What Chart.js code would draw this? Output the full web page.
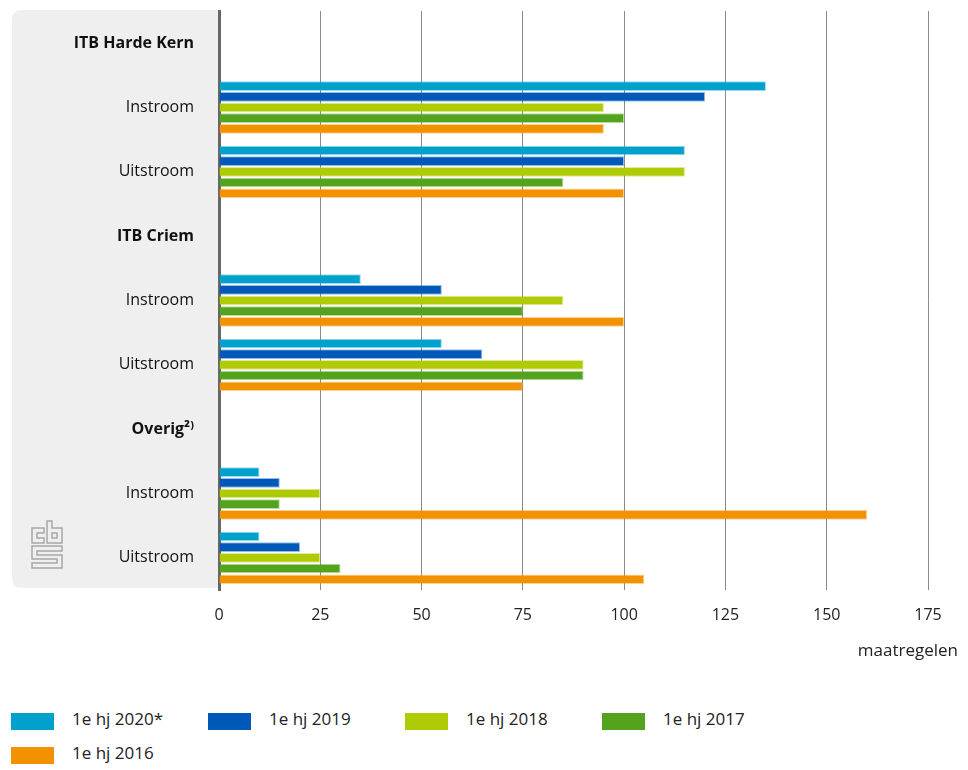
<!DOCTYPE html>
<html>
<head>
<meta charset="utf-8">
<script src="https://cdn.jsdelivr.net/npm/chart.js@4/dist/chart.umd.min.js"></script>
<style>
  body { margin: 0; background: #fff; font-family: 'Open Sans', sans-serif; }
  #wrap { position: relative; width: 968px; height: 690px; }
  #legend { position: absolute; left: 0; top: 704px; width: 968px; }
  .item { position: absolute; height: 20px; font-size: 17px; color: #222; white-space: nowrap; }
  .item span.box { position: absolute; left: 0; top: 9px; width: 43px; height: 17px; }
  .item span.txt { position: absolute; left: 61px; top: 3px; line-height: 24px; }
</style>
</head>
<body>
<div id="wrap"><canvas id="chart" width="968" height="690"></canvas></div>
<div id="legend"></div>
<script>
// categories (header rows have no bars)
const categories = ['ITB Harde Kern', 'Instroom', 'Uitstroom', 'ITB Criem', 'Instroom', 'Uitstroom', 'Overig\u00B2\u207E', 'Instroom', 'Uitstroom'];
const headerRows = [0, 3, 6];

const seriesNames = ['1e hj 2020*', '1e hj 2019', '1e hj 2018', '1e hj 2017', '1e hj 2016'];
const seriesColors = ['#00a1cd', '#0058b8', '#afcb05', '#53a31d', '#f39200'];

const v2020 = [null, 135, 115, null, 35, 55, null, 10, 10];
const v2019 = [null, 120, 100, null, 55, 65, null, 15, 20];
const v2018 = [null, 95, 115, null, 85, 90, null, 25, 25];
const v2017 = [null, 100, 85, null, 75, 90, null, 15, 30];
const v2016 = [null, 95, 100, null, 100, 75, null, 160, 105];

const xTicks = [0, 25, 50, 75, 100, 125, 150, 175];

const seriesValues = [v2020, v2019, v2018, v2017, v2016];

const FONT = "'Open Sans', sans-serif";

// gray panel behind labels + cbs logo + unit label
const decoPlugin = {
  id: 'deco',
  beforeDraw: function(chart) {
    const ctx = chart.ctx;
    const a = chart.chartArea;
    const l = 12, t = a.top - 1, r = a.left, b = a.bottom - 2, rad = 10;
    ctx.save();
    ctx.fillStyle = '#efefef';
    ctx.beginPath();
    ctx.moveTo(r, t);
    ctx.lineTo(l + rad, t);
    ctx.quadraticCurveTo(l, t, l, t + rad);
    ctx.lineTo(l, b - rad);
    ctx.quadraticCurveTo(l, b, l + rad, b);
    ctx.lineTo(r, b);
    ctx.closePath();
    ctx.fill();

    // cbs logo (rough)
    ctx.strokeStyle = '#a8a8a8';
    ctx.lineWidth = 1.5;
    const poly = function(pts) {
      ctx.beginPath();
      ctx.moveTo(pts[0][0], pts[0][1]);
      for (let i = 1; i < pts.length; i++) ctx.lineTo(pts[i][0], pts[i][1]);
      ctx.closePath();
      ctx.stroke();
    };
    poly([[32, 528], [44, 528], [44, 533], [37, 533], [37, 538], [44, 538], [44, 543], [32, 543]]);
    poly([[47, 521], [52, 521], [52, 528], [62, 528], [62, 543], [47, 543]]);
    poly([[52, 533], [57, 533], [57, 538], [52, 538]]);
    poly([[32, 546], [62, 546], [62, 551], [37, 551], [37, 555], [62, 555], [62, 568], [32, 568], [32, 563], [57, 563], [57, 559], [32, 559]]);
    ctx.restore();
  },
  afterDraw: function(chart) {
    const ctx = chart.ctx;
    ctx.save();
    ctx.fillStyle = '#222';
    ctx.font = '17px ' + FONT;
    ctx.textAlign = 'right';
    ctx.textBaseline = 'middle';
    ctx.fillText('maatregelen', 958, chart.chartArea.bottom + 61);
    ctx.restore();
  }
};

const datasets = seriesNames.map(function(name, i) {
  return {
    label: name,
    data: seriesValues[i],
    backgroundColor: seriesColors[i],
    borderColor: seriesColors[i] + '66',
    borderWidth: 1,
    borderSkipped: 'start',
    barPercentage: 0.9,
    categoryPercentage: 0.83,
  };
});

new Chart(document.getElementById('chart').getContext('2d'), {
  type: 'bar',
  data: { labels: categories, datasets: datasets },
  plugins: [decoPlugin],
  options: {
    indexAxis: 'y',
    responsive: false,
    animation: false,
    layout: { padding: { top: 11, right: 40, left: 0, bottom: 0 } },
    plugins: {
      legend: { display: false },
      tooltip: { enabled: false },
    },
    scales: {
      x: {
        min: 0,
        max: 175,
        afterBuildTicks: function(scale) {
          scale.ticks = xTicks.map(function(v) { return { value: v }; });
        },
        afterFit: function(scale) {
          scale.height = 100;
          scale.paddingLeft = 0;
          scale.paddingRight = 0;
        },
        grid: { color: '#8a8a8a', lineWidth: 1, drawTicks: false },
        border: { display: false },
        ticks: { color: '#222', padding: 16, font: { family: FONT, size: 16 } },
      },
      y: {
        afterFit: function(scale) {
          scale.width = 219;
          scale.paddingTop = 0;
          scale.paddingBottom = 0;
        },
        grid: { display: false, drawTicks: false },
        border: { display: true, color: '#666', width: 3 },
        ticks: {
          color: '#111',
          padding: 25,
          font: function(c) {
            const bold = headerRows.indexOf(c.index) >= 0;
            return { family: FONT, size: 16, weight: bold ? 'bold' : 'normal' };
          },
        },
      },
    },
  },
});

// html legend from the series arrays
const legend = document.getElementById('legend');
seriesNames.forEach(function(name, i) {
  const el = document.createElement('div');
  el.className = 'item';
  el.style.left = (11 + (i % 4) * 197) + 'px';
  el.style.top = (Math.floor(i / 4) * 34) + 'px';
  el.innerHTML = '<span class="box" style="background:' + seriesColors[i] + '"></span><span class="txt">' + name + '</span>';
  legend.appendChild(el);
});
</script>
</body>
</html>
